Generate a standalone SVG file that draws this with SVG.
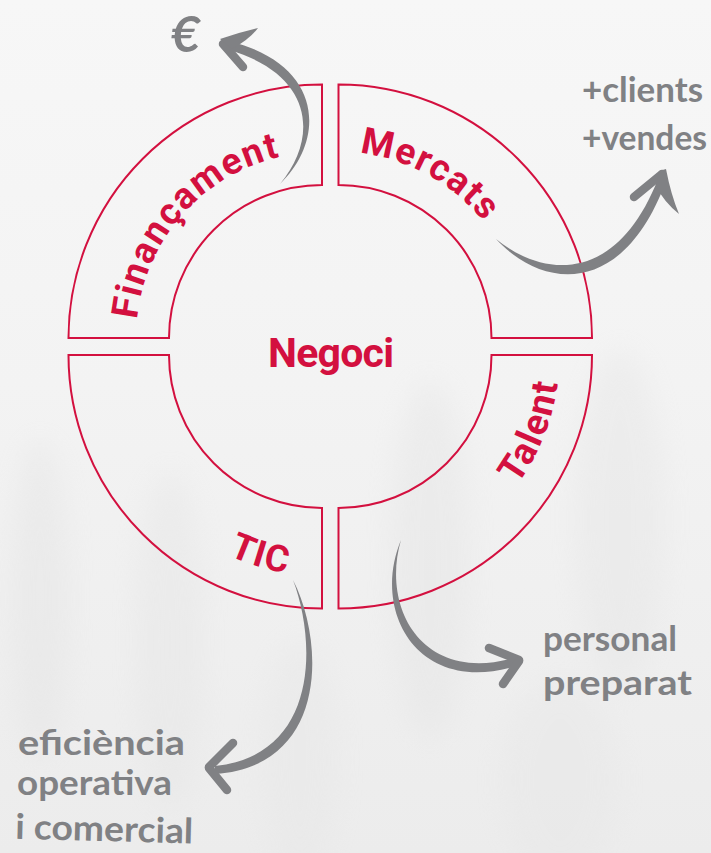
<svg xmlns="http://www.w3.org/2000/svg" width="711" height="853" viewBox="0 0 711 853">
  <defs>
    <linearGradient id="bg" x1="0" y1="0" x2="0" y2="1">
      <stop offset="0" stop-color="#f7f7f7"/>
      <stop offset="0.45" stop-color="#f3f3f3"/>
      <stop offset="1" stop-color="#ececec"/>
    </linearGradient>
    <filter id="fog" x="-50%" y="-50%" width="200%" height="200%">
      <feGaussianBlur stdDeviation="14"/>
    </filter>
    <path id="pFin" d="M198.8,477.3 A186,186 0 0 1 182.7,214.8 A186,186 0 0 1 445.2,198.7"/>
    <path id="pMer" d="M175.8,247.8 A186,186 0 0 1 428.7,175.3 A186,186 0 0 1 501.2,428.2"/>
    <path id="pTal" d="M257.5,560.6 A221,221 0 0 0 544.1,436.0 A221,221 0 0 0 419.5,149.4"/>
    <path id="pTic" d="M110.7,290.4 A221,221 0 0 0 257.4,566.3 A221,221 0 0 0 533.3,419.6"/>
  </defs>
  <style>
    .quad { fill: none; stroke: #d3103f; stroke-width: 2; }
    .lbl { font-family: Roboto, "DejaVu Sans", sans-serif; font-weight: bold; fill: #d3103f; }
    .arc { font-size: 37px; letter-spacing: 1.5px; }
    .body { fill: #808184; }
    .wing { fill: none; stroke: #808184; stroke-width: 8.5; stroke-linecap: round; }
    .hand { font-family: Lato, "Noto Sans", sans-serif; font-weight: bold; fill: #808184; font-size: 35px; }
    .euro { font-size: 50px; font-style: italic; }
  </style>

  <rect x="0" y="0" width="711" height="853" fill="url(#bg)"/>
  <g id="background-fog" filter="url(#fog)" opacity="0.4">
    <ellipse cx="40" cy="600" rx="30" ry="160" fill="#e2e2e2"/>
    <ellipse cx="170" cy="640" rx="35" ry="170" fill="#e4e4e4"/>
    <ellipse cx="430" cy="560" rx="40" ry="180" fill="#e3e3e3"/>
    <ellipse cx="620" cy="520" rx="45" ry="170" fill="#e4e4e4"/>
    <ellipse cx="300" cy="760" rx="40" ry="120" fill="#e6e6e6"/>
    <ellipse cx="560" cy="780" rx="60" ry="100" fill="#e6e6e6"/>
  </g>

  <g id="financament">
    <path class="quad" d="M68.5,338 A253.5,253.5 0 0 1 322,84.5 L322,185 A153,153 0 0 0 169,338 Z"/>
    <text class="lbl arc"><textPath href="#pFin" startOffset="50%" text-anchor="middle">Finançament</textPath></text>
  </g>
  <g id="mercats">
    <path class="quad" d="M338.5,84.5 A253.5,253.5 0 0 1 592,338 L491.5,338 A153,153 0 0 0 338.5,185 Z"/>
    <text class="lbl arc"><textPath href="#pMer" startOffset="50%" text-anchor="middle">Mercats</textPath></text>
  </g>
  <g id="tic">
    <path class="quad" d="M68.5,355 L169,355 A153,153 0 0 0 322,508 L322,608.5 A253.5,253.5 0 0 1 68.5,355 Z"/>
    <text class="lbl arc"><textPath href="#pTic" startOffset="50%" text-anchor="middle">TIC</textPath></text>
  </g>
  <g id="talent">
    <path class="quad" d="M338.5,508 A153,153 0 0 0 491.5,355 L592,355 A253.5,253.5 0 0 1 338.5,608.5 Z"/>
    <text class="lbl arc"><textPath href="#pTal" startOffset="50%" text-anchor="middle">Talent</textPath></text>
  </g>
  <g id="negoci">
    <text class="lbl" x="331" y="366.5" font-size="41" text-anchor="middle" textLength="126" lengthAdjust="spacing">Negoci</text>
  </g>

  <g id="connectors">
    <g id="arrow-financament">
      <path class="body" d="M280,184 C325,141 325,66 231,41.5 L229,50 C315,75 318,139 280,184 Z"/>
      <line class="wing" x1="223" y1="44" x2="243" y2="67"/>
      <path class="body" d="M220,39 Q240,32 258,28 Q250,39 232,49 Z"/>
    </g>
    <g id="arrow-mercats">
      <path class="body" d="M496,239 C545,279 617,283 658,179 L666,181 C624,296 544,291 496,239 Z"/>
      <line class="wing" x1="662" y1="174" x2="634" y2="197"/>
      <path class="body" d="M659,171 L666,169 Q671,195 679,214 Q664,202 656,186 Z"/>
    </g>
    <g id="arrow-talent">
      <path class="body" d="M401,540 C371,612 418,696 516,666 L514,658 C422,684 381,608 401,540 Z"/>
      <line class="wing" x1="519" y1="660" x2="489" y2="648"/>
      <line class="wing" x1="519" y1="661" x2="503" y2="684"/>
    </g>
    <g id="arrow-tic">
      <path class="body" d="M293,580 C324,640 330,766 215,774 L215,766 C320,755 316,640 293,580 Z"/>
      <line class="wing" x1="209" y1="767" x2="233" y2="743"/>
      <line class="wing" x1="209" y1="768" x2="227" y2="790"/>
    </g>
  </g>

  <g id="outcomes">
    <text class="hand euro" x="171" y="52">€</text>
    <text class="hand" x="582" y="102" textLength="121" lengthAdjust="spacingAndGlyphs">+clients</text>
    <text class="hand" x="582" y="150" textLength="125" lengthAdjust="spacingAndGlyphs">+vendes</text>
    <text class="hand" x="543" y="651" textLength="134" lengthAdjust="spacingAndGlyphs">personal</text>
    <text class="hand" x="543" y="695" textLength="149" lengthAdjust="spacingAndGlyphs">preparat</text>
    <text class="hand" x="18" y="755" textLength="167" lengthAdjust="spacingAndGlyphs">eficiència</text>
    <text class="hand" x="17" y="795" textLength="155" lengthAdjust="spacingAndGlyphs">operativa</text>
    <text class="hand" x="15" y="841" textLength="178" lengthAdjust="spacingAndGlyphs" transform="rotate(1.5 100 838)">i comercial</text>
  </g>
</svg>
